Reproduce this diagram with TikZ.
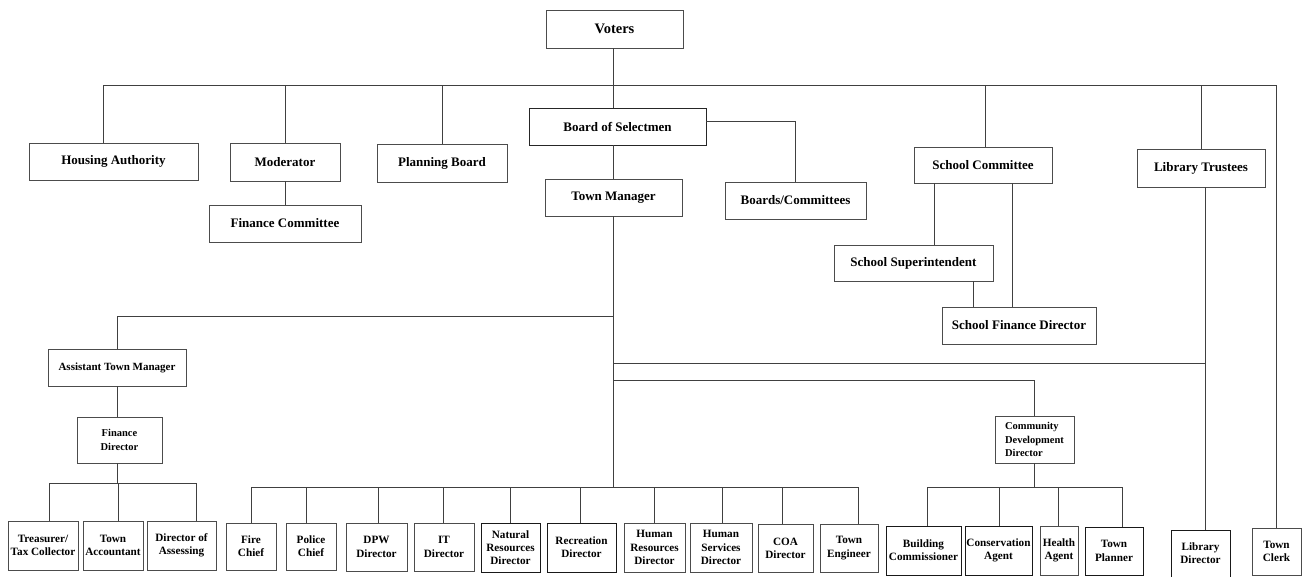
\documentclass[tikz,border=0pt]{standalone}
\usepackage{fontspec}
\setmainfont{Liberation Serif}
\begin{document}
\begin{tikzpicture}[x=1pt,y=-1pt,
  box/.style={draw=black!70, line width=0.9pt, fill=white, inner sep=0pt, align=center,
    font=\bfseries\fontsize{13}{15}\selectfont},
  mid/.style={font=\bfseries\fontsize{11}{13.3}\selectfont},
  small/.style={font=\bfseries\fontsize{10.5}{13.3}\selectfont},
  leaf/.style={font=\bfseries\fontsize{11.2}{13.3}\selectfont},
  link/.style={draw=black!75, line width=0.8pt}]
\useasboundingbox (0,0) rectangle (1309,577);
% top level
\node[box, minimum width=137, minimum height=38, font=\bfseries\fontsize{14.5}{16}\selectfont] (V) at (614.5,29) {Voters};
\node[box, minimum width=169, minimum height=37] (HA) at (113.5,161.5) {Housing Authority};
\node[box, minimum width=110, minimum height=38] (Mod) at (285,162) {Moderator};
\node[box, minimum width=152, minimum height=37] (FinComm) at (285,223.5) {Finance Committee};
\node[box, minimum width=130, minimum height=38] (Plan) at (442,163) {Planning Board};
\node[box, minimum width=177, minimum height=37, draw=black!85] (BoS) at (617.5,126.5) {Board of Selectmen};
\node[box, minimum width=141, minimum height=37] (Boards) at (795.5,200.5) {Boards/Committees};
\node[box, minimum width=137, minimum height=37] (TM) at (613.5,197.5) {Town Manager};
\node[box, minimum width=138, minimum height=36] (SC) at (983,165) {School Committee};
\node[box, minimum width=128, minimum height=38] (LT) at (1201,168) {Library Trustees};
\node[box, minimum width=159, minimum height=36] (SS) at (913.5,263) {School Superintendent};
\node[box, minimum width=154, minimum height=37] (SFD) at (1019,325.5) {School Finance Director};
% middle level
\node[box, mid, minimum width=138, minimum height=37] (ATM) at (117,367.5) {Assistant Town Manager};
\node[box, small, minimum width=85, minimum height=46] (FD) at (119.5,440) {Finance\\Director};
\node[box, small, minimum width=79, minimum height=47, align=left] (CDD) at (1034.5,439.5) {Community\\Development\\Director};
% bottom row
\node[box, leaf, minimum width=70, minimum height=49] (Treas) at (43,545.5) {Treasurer/\\Tax Collector};
\node[box, leaf, minimum width=60, minimum height=49] (Acct) at (113,545.5) {Town\\Accountant};
\node[box, leaf, minimum width=69, minimum height=49] (Assess) at (181.5,545.5) {Director of\\Assessing};
\node[box, leaf, minimum width=50, minimum height=47] (Fire) at (251,546.5) {Fire\\Chief};
\node[box, leaf, minimum width=50, minimum height=47] (Police) at (311,546.5) {Police\\Chief};
\node[box, leaf, minimum width=61, minimum height=48] (DPW) at (376.5,547) {DPW\\Director};
\node[box, leaf, minimum width=60, minimum height=48] (IT) at (444,547) {IT\\Director};
\node[box, leaf, minimum width=59, minimum height=49, draw=black!90] (NatRes) at (510.5,547.5) {Natural\\Resources\\Director};
\node[box, leaf, minimum width=69, minimum height=49, draw=black!90] (Rec) at (581.5,547.5) {Recreation\\Director};
\node[box, leaf, minimum width=61, minimum height=49] (HR) at (654.5,547.5) {Human\\Resources\\Director};
\node[box, leaf, minimum width=62, minimum height=49] (HS) at (721,547.5) {Human\\Services\\Director};
\node[box, leaf, minimum width=55, minimum height=48] (COA) at (785.5,548) {COA\\Director};
\node[box, leaf, minimum width=58, minimum height=48] (TE) at (849,548) {Town\\Engineer};
\node[box, leaf, minimum width=75, minimum height=49, draw=black!90] (Bldg) at (923.5,550.5) {Building\\Commissioner};
\node[box, leaf, minimum width=67, minimum height=49, draw=black!90] (Cons) at (998.5,550.5) {Conservation\\Agent};
\node[box, leaf, minimum width=38, minimum height=49] (Health) at (1059,550.5) {Health\\Agent};
\node[box, leaf, minimum width=58, minimum height=48, draw=black!90] (Planner) at (1114,551) {Town\\Planner};
\node[box, leaf, minimum width=59, minimum height=47, draw=black!90] (LibDir) at (1200.5,553.5) {Library\\Director};
\node[box, leaf, minimum width=49, minimum height=47] (Clerk) at (1276.5,551.5) {Town\\Clerk};
% bus levels
\coordinate (topbus) at (0,85);
\coordinate (atmbus) at (0,316);
\coordinate (libbus) at (0,363);
\coordinate (cddbus) at (0,380);
\coordinate (finbus) at (0,483);
\coordinate (mainbus) at (0,487);
% connectors: top
\draw[link] (V.south -| TM.north) -- (TM.north |- BoS.north);
\draw[link] ([xshift=-10pt]HA.north) |- (topbus -| Clerk.north) -- (Clerk.north);
\draw[link] (Mod.north) -- (Mod.north |- topbus);
\draw[link] (Plan.north) -- (Plan.north |- topbus);
\draw[link] ([xshift=2pt]SC.north) -- ([xshift=2pt]SC.north |- topbus);
\draw[link] (LT.north) -- (LT.north |- topbus);
\draw[link] (Mod.south) -- (FinComm.north);
\draw[link] ([yshift=5pt]BoS.east) -| (Boards.north);
\draw[link] (TM.north |- BoS.south) -- (TM.north);
\draw[link] ([xshift=-49pt]SC.south) -- ([xshift=-49pt]SC.south |- SS.north);
\draw[link] ([xshift=29pt]SC.south) -- ([xshift=29pt]SC.south |- SFD.north);
\draw[link] ([xshift=59.5pt]SS.south) -- ([xshift=59.5pt]SS.south |- SFD.north);
\draw[link] ([xshift=4pt]LT.south) -- ([xshift=4pt]LT.south |- LibDir.north);
% town manager trunk
\draw[link] (TM.south) -- (TM.south |- mainbus);
\draw[link] (TM.south |- atmbus) -| (ATM.north);
\draw[link] (TM.south |- libbus) -- ([xshift=4pt]LT.south |- libbus);
\draw[link] (TM.south |- cddbus) -| (CDD.north);
% finance branch
\draw[link] (ATM.south) -- (ATM.south |- FD.north);
\draw[link] (ATM.south |- FD.south) -- (ATM.south |- finbus);
\draw[link] ([xshift=6pt]Treas.north |- finbus) -- ([xshift=15pt]Assess.north |- finbus);
\draw[link] ([xshift=6pt]Treas.north) -- ([xshift=6pt]Treas.north |- finbus);
\draw[link] ([xshift=5pt]Acct.north) -- ([xshift=5pt]Acct.north |- finbus);
\draw[link] ([xshift=15pt]Assess.north) -- ([xshift=15pt]Assess.north |- finbus);
% main bus
\draw[link] (Fire.north |- mainbus) -- ([xshift=9pt]TE.north |- mainbus);
\foreach \n/\s in {Fire/0,Police/-5,DPW/1.5,IT/-1,NatRes/0,Rec/-1.5,HR/0,HS/1,COA/-3.5,TE/9}
  \draw[link] ([xshift=\s pt]\n.north) -- ([xshift=\s pt]\n.north |- mainbus);
% community development branch
\draw[link] (CDD.south) -- (CDD.south |- mainbus);
\draw[link] ([xshift=3.5pt]Bldg.north |- mainbus) -- ([xshift=8pt]Planner.north |- mainbus);
\foreach \n/\s in {Bldg/3.5,Cons/0.5,Health/-1,Planner/8}
  \draw[link] ([xshift=\s pt]\n.north) -- ([xshift=\s pt]\n.north |- mainbus);
\end{tikzpicture}
\end{document}
